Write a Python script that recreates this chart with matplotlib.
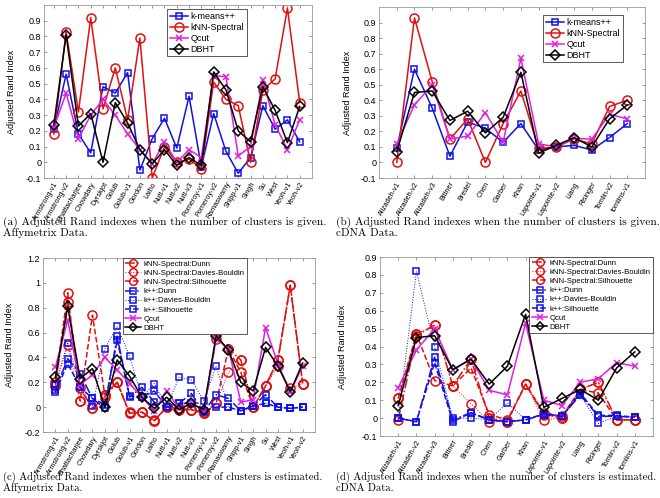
import matplotlib
matplotlib.use("Agg")
import matplotlib.pyplot as plt
import numpy as np

plt.rcParams["font.family"] = ["Liberation Sans", "DejaVu Sans"]
plt.rcParams["axes.unicode_minus"] = False

# dataset names
AFFY_LABELS = ["Armstrong-v1", "Armstrong-v2", "Bhattacharjee", "Chowdary", "Dyrskjot",
               "Golub", "Golub-v1", "Gordon", "Laiho", "Nutt-v1", "Nutt-v2", "Nutt-v3",
               "Pomeroy-v1", "Pomeroy-v2", "Ramaswamy", "Shipp-v1", "Singh", "Su", "West",
               "Yeoh-v1", "Yeoh-v2"]
CDNA_LABELS = ["Alizadeh-v1", "Alizadeh-v2", "Alizadeh-v3", "Bittner", "Bredel", "Chen",
               "Garber", "Khan", "Lapointe-v1", "Lapointe-v2", "Liang", "Risinger",
               "Tomlin-v2", "tomlins-v1"]

# (a) Affymetrix, number of clusters given
kmeans_a = [0.21, 0.56, 0.18, 0.06, 0.48, 0.44, 0.57, -0.05, 0.15, 0.28, 0.09, 0.42, -0.03,
            0.31, 0.07, -0.07, 0.03, 0.36, 0.21, 0.27, 0.13]
knn_a = [0.18, 0.83, 0.32, 0.92, 0.34, 0.60, 0.27, 0.79, -0.10, 0.10, 0.00, 0.02, -0.04,
         0.51, 0.40, 0.36, 0.00, 0.46, 0.53, 0.98, 0.38]
qcut_a = [0.22, 0.44, 0.15, 0.30, 0.40, 0.30, 0.18, 0.08, -0.01, 0.13, 0.00, 0.08, 0.03,
          0.55, 0.545, 0.04, 0.10, 0.52, 0.24, 0.08, 0.27]
dbht_a = [0.24, 0.81, 0.23, 0.31, 0.00, 0.38, 0.25, 0.08, -0.01, 0.08, -0.02, 0.03, -0.02,
          0.575, 0.46, 0.20, 0.13, 0.48, 0.33, 0.125, 0.355]

# (b) cDNA, number of clusters given
kmeans_b = [0.09, 0.60, 0.35, 0.04, 0.26, 0.22, 0.13, 0.25, 0.08, 0.10, 0.11, 0.08, 0.16, 0.25]
knn_b = [0.00, 0.93, 0.52, 0.15, 0.28, 0.00, 0.25, 0.46, 0.09, 0.10, 0.15, 0.12, 0.36, 0.40]
qcut_b = [0.12, 0.37, 0.50, 0.15, 0.17, 0.32, 0.13, 0.67, 0.12, 0.10, 0.155, 0.15, 0.31, 0.28]
dbht_b = [0.07, 0.45, 0.46, 0.27, 0.33, 0.19, 0.29, 0.58, 0.06, 0.11, 0.16, 0.10, 0.28, 0.37]

# (c) Affymetrix, number of clusters estimated
knn_dunn_c = [0.18, 0.85, 0.15, -0.01, 0.08, 0.20, -0.05, -0.04, -0.11, 0.00, -0.02, -0.02,
              -0.05, 0.55, 0.47, 0.38, 0.00, 0.17, 0.38, 0.98, 0.19]
knn_db_c = [0.17, 0.50, 0.05, -0.01, 0.10, 0.20, -0.04, -0.04, -0.10, 0.00, -0.01, -0.02,
            -0.04, 0.03, 0.28, 0.38, 0.00, 0.17, 0.33, 0.15, 0.19]
knn_sil_c = [0.20, 0.92, 0.05, 0.74, 0.10, 0.20, -0.05, -0.04, -0.11, 0.00, -0.01, -0.02,
             -0.05, 0.03, 0.47, 0.28, 0.00, 0.17, 0.38, 0.98, 0.19]
kpp_dunn_c = [0.14, 0.39, 0.27, 0.07, -0.01, 0.57, 0.08, 0.16, 0.04, 0.00, 0.03, 0.11, -0.04,
              0.10, 0.07, -0.03, 0.01, 0.10, 0.00, -0.01, 0.00]
kpp_db_c = [0.19, 0.52, 0.16, 0.01, 0.47, 0.65, 0.41, 0.08, 0.19, 0.00, 0.24, 0.22, 0.05,
            0.33, 0.00, -0.03, 0.01, 0.03, 0.00, -0.01, 0.00]
kpp_sil_c = [0.12, 0.35, 0.16, 0.07, 0.02, 0.54, 0.09, 0.08, 0.13, 0.00, 0.03, 0.03, -0.03,
             0.00, 0.00, -0.03, 0.01, 0.03, 0.00, -0.01, 0.00]
qcut_c = [0.32, 0.70, 0.18, 0.26, 0.40, 0.30, 0.19, 0.08, -0.03, 0.13, -0.01, 0.03, -0.03,
          0.55, 0.47, 0.04, 0.06, 0.64, 0.35, 0.12, 0.33]
dbht_c = dbht_a

# (d) cDNA, number of clusters estimated
knn_dunn_d = [-0.01, 0.46, 0.52, 0.18, 0.33, 0.00, -0.02, 0.19, 0.02, 0.00, 0.16, 0.20, -0.01, -0.01]
knn_db_d = [0.11, 0.47, 0.52, 0.18, 0.08, -0.02, -0.02, 0.19, -0.01, 0.00, 0.16, 0.20, -0.01, -0.01]
knn_sil_d = [0.11, 0.47, 0.21, 0.18, 0.28, 0.02, -0.01, 0.19, 0.03, 0.01, 0.16, 0.14, -0.01, -0.01]
kpp_dunn_d = [0.00, -0.02, 0.34, -0.01, 0.03, -0.01, -0.02, -0.01, 0.02, 0.01, 0.13, 0.01, 0.01, 0.005]
kpp_db_d = [0.00, 0.82, 0.40, 0.00, 0.00, -0.01, 0.085, -0.01, 0.02, 0.01, 0.13, -0.03, 0.01, 0.005]
kpp_sil_d = [0.00, -0.02, 0.31, -0.02, 0.03, -0.01, -0.02, -0.01, 0.025, 0.01, 0.14, 0.015, 0.015, 0.005]
qcut_d = [0.17, 0.38, 0.50, 0.27, 0.33, 0.155, 0.13, 0.53, 0.10, 0.07, 0.20, 0.22, 0.31, 0.29]
dbht_d = dbht_b

CAPTIONS = [
    ("(a) Adjusted Rand indexes when the number of clusters is given.", "Affymetrix Data."),
    ("(b) Adjusted Rand indexes when the number of clusters is given.", "cDNA Data."),
    ("(c) Adjusted Rand indexes when the number of clusters is estimated.", "Affymetrix Data."),
    ("(d) Adjusted Rand indexes when the number of clusters is estimated.", "cDNA Data."),
]

BLUE, RED, MAG, BLACK = "#1010e8", "#e01010", "#e020e0", "black"

STYLE = {
    "k-means++": dict(color=BLUE, marker="s", ls="-", ms=5),
    "kNN-Spectral": dict(color=RED, marker="o", ls="-", ms=6.5),
    "Qcut": dict(color=MAG, marker="x", ls="-", ms=4.5),
    "DBHT": dict(color=BLACK, marker="D", ls="-", ms=5),
    "kNN-Spectral:Dunn": dict(color=RED, marker="o", ls="-.", ms=6.5),
    "kNN-Spectral:Davies-Bouldin": dict(color=RED, marker="o", ls=":", ms=6.5, lw=0.7),
    "kNN-Spectral:Silhouette": dict(color=RED, marker="o", ls="--", ms=6.5),
    "k++:Dunn": dict(color=BLUE, marker="s", ls="-.", ms=5),
    "k++:Davies-Bouldin": dict(color=BLUE, marker="s", ls=":", ms=5, lw=0.7),
    "k++:Silhouette": dict(color=BLUE, marker="s", ls="--", ms=5),
}

W, H = 660, 498
fig = plt.figure(figsize=(W / 100, H / 100), dpi=100)


def add_axes(l, r, t, b):
    return fig.add_axes([l / W, 1 - b / H, (r - l) / W, (b - t) / H])


def tick_fmt(v):
    v = round(v, 1) + 0.0
    return f"{v:g}"


def draw_panel(box, labels, series, xlim, ylim, yticks, leg_xy, ylab_x,
               leg_fs=6.5, leg_loc="upper left", mscale=1.0):
    ax = add_axes(*box)
    x = np.arange(1, len(labels) + 1)
    for name, vals in series:
        st = dict(STYLE[name])
        lw = st.pop("lw", 1.1)
        ax.plot(x, vals, label=name, lw=lw, mfc="none", mew=1.1, **st)
    ax.set_xlim(*xlim)
    ax.set_ylim(*ylim)
    ax.set_xticks(x)
    ax.set_xticklabels(labels, rotation=60, ha="right", rotation_mode="anchor", fontsize=5.2)
    ax.set_yticks(yticks)
    ax.set_yticklabels([tick_fmt(v) for v in yticks], fontsize=6.5)
    ax.tick_params(direction="in", top=True, right=True, length=2.5, width=0.5,
                   color="0.45", pad=2)
    for s in ax.spines.values():
        s.set_color("0.6")
        s.set_linewidth(0.6)
    ax.set_ylabel("Adjusted Rand Index", fontsize=6.5)
    l, r = box[0], box[1]
    ax.yaxis.set_label_coords((ylab_x + 4 - l) / (r - l), 0.5)
    leg = ax.legend(loc=leg_loc, bbox_to_anchor=(leg_xy[0] / W, 1 - leg_xy[1] / H),
                    bbox_transform=fig.transFigure, borderaxespad=0, fontsize=leg_fs,
                    handlelength=2.0, handletextpad=0.3, labelspacing=0.22,
                    borderpad=0.3, fancybox=False, framealpha=1, markerscale=mscale)
    leg.get_frame().set_edgecolor("0.25")
    leg.get_frame().set_linewidth(0.6)
    return ax


draw_panel((44, 312, 5, 178), AFFY_LABELS,
           [("k-means++", kmeans_a), ("kNN-Spectral", knn_a), ("Qcut", qcut_a), ("DBHT", dbht_a)],
           (0.2, 22), (-0.1, 1.0), np.arange(-0.1, 0.95, 0.1), (167, 9), 12)

draw_panel((379, 645, 7, 178), CDNA_LABELS,
           [("k-means++", kmeans_b), ("kNN-Spectral", knn_b), ("Qcut", qcut_b), ("DBHT", dbht_b)],
           (0, 15), (-0.1, 1.0), np.arange(-0.1, 0.95, 0.1), (543, 15), 348)

draw_panel((43, 315, 258, 432), AFFY_LABELS,
           [("kNN-Spectral:Dunn", knn_dunn_c), ("kNN-Spectral:Davies-Bouldin", knn_db_c),
            ("kNN-Spectral:Silhouette", knn_sil_c), ("k++:Dunn", kpp_dunn_c),
            ("k++:Davies-Bouldin", kpp_db_c), ("k++:Silhouette", kpp_sil_c),
            ("Qcut", qcut_c), ("DBHT", dbht_c)],
           (0, 22), (-0.2, 1.2), np.arange(-0.2, 1.25, 0.2), (123, 258), 10,
           leg_fs=5.6, mscale=0.85)

draw_panel((380, 653, 257, 436), CDNA_LABELS,
           [("kNN-Spectral:Dunn", knn_dunn_d), ("kNN-Spectral:Davies-Bouldin", knn_db_d),
            ("kNN-Spectral:Silhouette", knn_sil_d), ("k++:Dunn", kpp_dunn_d),
            ("k++:Davies-Bouldin", kpp_db_d), ("k++:Silhouette", kpp_sil_d),
            ("Qcut", qcut_d), ("DBHT", dbht_d)],
           (0, 15), (-0.1, 0.9), np.arange(-0.1, 0.95, 0.1), (653, 257), 343,
           leg_fs=5.6, leg_loc="upper right", mscale=0.85)

# captions, first line stretched to the column width
renderer = fig.canvas.get_renderer()
cap_pos = [(3, 325, 222), (336, 658, 222.7), (3, 325, 477), (336, 658, 477.3)]
for (line1, line2), (x0, x1, y0) in zip(CAPTIONS, cap_pos):
    t = fig.text(x0 / W, 1 - y0 / H, line1, fontsize=8, family=["cmr10", "DejaVu Serif"],
                 va="center", ha="left")
    w = t.get_window_extent(renderer).width
    fs = 8 * (x1 - x0) / w
    t.set_fontsize(fs)
    fig.text(x0 / W, 1 - (y0 + 11) / H, line2, fontsize=fs, family=["cmr10", "DejaVu Serif"],
             va="center", ha="left")

fig.savefig("out.png", dpi=100)
